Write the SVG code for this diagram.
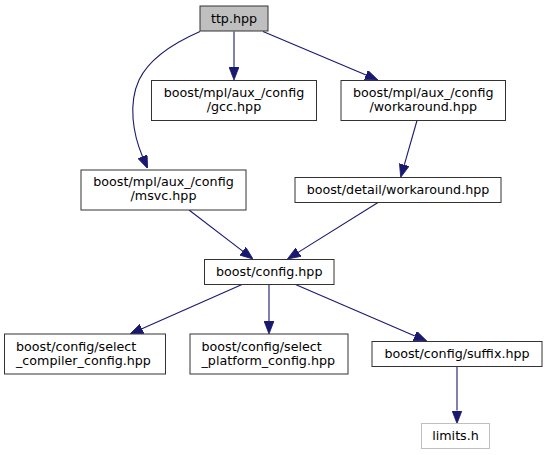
<svg xmlns="http://www.w3.org/2000/svg" width="547" height="455" viewBox="0 0 547 455">
<style>
.n rect{fill:#ffffff;stroke:#333333;stroke-width:1}
.n text{font-family:"DejaVu Sans",sans-serif;font-size:12.7px;fill:#000000}
.c{text-anchor:middle}
.e path{fill:none;stroke:#191970;stroke-width:1.1;marker-end:url(#ah)}
</style>
<defs>
<marker id="ah" markerUnits="userSpaceOnUse" markerWidth="13" markerHeight="10" viewBox="0 0 13 10" refX="0" refY="5" orient="auto">
<path d="M0,0 L13,5 L0,10 z" fill="#191970" stroke="#191970" stroke-width="0.8"/>
</marker>
</defs>
<rect width="547" height="455" fill="#ffffff"/>
<g id="edges" class="e">
<path d="M200,31.5 C176,42 150,57 139,80 C128,104 133,134 142.5,156.5"/>
<path d="M234,31.5 L234,67"/>
<path d="M263,31.5 L366,75"/>
<path d="M417,120.5 L404.3,164.8"/>
<path d="M189,210 L242.7,251.1"/>
<path d="M378,202.5 L298.5,252.1"/>
<path d="M242,284.5 L141.9,328.8"/>
<path d="M269,284.5 L269,321"/>
<path d="M295.5,284.5 L414.9,335.9"/>
<path d="M457,366.5 L457,410.5"/>
</g>
<g id="node_ttp" class="n">
<rect x="200" y="6" width="68" height="25" style="fill:#bfbfbf"/>
<text class="c" x="234" y="22.5">ttp.hpp</text>
</g>
<g id="node_gcc" class="n">
<rect x="151.5" y="80.5" width="165" height="40"/>
<text class="c" x="234" y="96.5">boost/mpl/aux_/config</text>
<text class="c" x="234" y="110.5">/gcc.hpp</text>
</g>
<g id="node_mpl_workaround" class="n">
<rect x="341" y="80.5" width="164.5" height="40"/>
<text class="c" x="423.25" y="96.5">boost/mpl/aux_/config</text>
<text class="c" x="423.25" y="110.5">/workaround.hpp</text>
</g>
<g id="node_msvc" class="n">
<rect x="81" y="170" width="165" height="40"/>
<text class="c" x="163.5" y="186">boost/mpl/aux_/config</text>
<text class="c" x="163.5" y="200">/msvc.hpp</text>
</g>
<g id="node_detail_workaround" class="n">
<rect x="295" y="177.5" width="206" height="25"/>
<text class="c" x="398" y="194">boost/detail/workaround.hpp</text>
</g>
<g id="node_config" class="n">
<rect x="204.5" y="259.5" width="129.5" height="25"/>
<text class="c" x="269.25" y="276">boost/config.hpp</text>
</g>
<g id="node_select_compiler" class="n">
<rect x="4.5" y="334" width="161" height="40"/>
<text x="16" y="350.5">boost/config/select</text>
<text x="16" y="364.5">_compiler_config.hpp</text>
</g>
<g id="node_select_platform" class="n">
<rect x="190" y="334" width="158" height="40"/>
<text x="201.5" y="350.5">boost/config/select</text>
<text x="201.5" y="364.5">_platform_config.hpp</text>
</g>
<g id="node_suffix" class="n">
<rect x="372" y="341.5" width="170" height="25"/>
<text class="c" x="457" y="358">boost/config/suffix.hpp</text>
</g>
<g id="node_limits" class="n">
<rect x="421.5" y="423.5" width="68" height="25" style="stroke:#bfbfbf"/>
<text class="c" x="455.5" y="440">limits.h</text>
</g>
</svg>
